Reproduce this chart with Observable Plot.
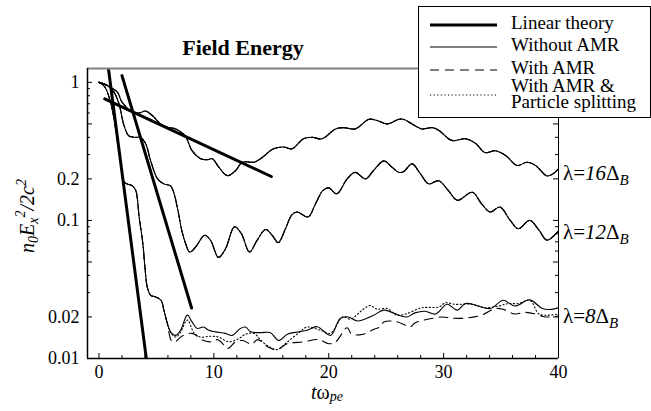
<!DOCTYPE html>
<html>
<head>
<meta charset="utf-8">
<script src="https://cdn.jsdelivr.net/npm/d3@7"></script>
<script src="https://cdn.jsdelivr.net/npm/@observablehq/plot@0.6"></script>
<style>
  html, body { margin: 0; padding: 0; background: #fff; }
  #chart { width: 651px; height: 411px; }
  #chart svg, #chart svg text, #chart svg g { font-family: "Liberation Serif", "Times New Roman", serif !important; }
  #chart g[aria-label$="tick label"], #chart g[aria-label$="tick label"] text { font-size: 18px !important; }
</style>
</head>
<body>
<div id="chart"></div>
<script>
// ---------- data ----------
const xLabelTicks = [0, 10, 20, 30, 40];
const xMinorTicks = [2, 4, 6, 8, 12, 14, 16, 18, 22, 24, 26, 28, 32, 34, 36, 38];
const yLabelTicks = [0.01, 0.02, 0.05, 0.1, 0.2, 0.5, 1];
const yMinorTicks = [0.03, 0.04, 0.06, 0.07, 0.08, 0.09, 0.3, 0.4, 0.6, 0.7, 0.8, 0.9];

// Linear theory (thick straight lines)
const linear16T = [0.5, 15.0];
const linear16V = [0.76, 0.208];
const linear12T = [2.0, 8.06];
const linear12V = [1.12, 0.0232];
const linear8T = [0.82, 4.12];
const linear8V = [1.26, 0.01];

// lambda = 16 Delta_B
const lam16T = [0, 0.5, 1.0, 1.6, 2.0, 2.9, 3.5, 4.06, 4.64, 5.5, 6.1, 6.67, 7.5, 8.1, 8.85, 9.4, 9.86, 10.43, 11.17, 11.9, 12.47, 13.5, 14.06, 15.2, 16.1, 16.8, 17.8, 18.55, 19.4, 20.6, 21.3, 22.3, 23.5, 24.2, 25.1, 26.1, 26.5, 27.25, 28.1, 29.0, 29.57, 30.7, 31.9, 32.8, 33.6, 34.5, 35.4, 36.4, 37.25, 38.0, 39.0, 39.6, 40];
const lam16V = [1.0, 0.97, 0.92, 0.85, 0.72, 0.61, 0.6, 0.62, 0.575, 0.49, 0.47, 0.46, 0.41, 0.32, 0.28, 0.275, 0.28, 0.243, 0.211, 0.23, 0.264, 0.264, 0.28, 0.33, 0.34, 0.33, 0.39, 0.40, 0.39, 0.46, 0.47, 0.46, 0.54, 0.53, 0.50, 0.54, 0.54, 0.50, 0.46, 0.47, 0.45, 0.38, 0.39, 0.36, 0.31, 0.32, 0.295, 0.25, 0.264, 0.25, 0.21, 0.22, 0.237];

// lambda = 12 Delta_B
const lam12T = [0, 0.73, 1.3, 1.74, 2.17, 2.6, 3.2, 3.6, 4.06, 4.5, 5.1, 5.65, 6.23, 6.5, 6.9, 7.2, 7.54, 7.9, 8.4, 9.2, 9.7, 10.4, 11.0, 11.8, 12.4, 13.1, 13.77, 14.5, 15.08, 15.6, 16.23, 16.8, 17.25, 18.2, 18.85, 19.5, 20.0, 20.7, 21.6, 22.3, 23.2, 23.9, 24.8, 25.5, 26.1, 26.5, 27.25, 27.97, 28.7, 29.57, 30.4, 31.2, 32.5, 33.3, 34.06, 34.9, 35.8, 36.5, 37.5, 38.3, 39.0, 40];
const lam12V = [1.0, 0.95, 0.85, 0.70, 0.49, 0.41, 0.40, 0.40, 0.36, 0.27, 0.20, 0.184, 0.178, 0.16, 0.115, 0.085, 0.068, 0.059, 0.064, 0.078, 0.072, 0.054, 0.062, 0.09, 0.08, 0.059, 0.072, 0.086, 0.078, 0.069, 0.087, 0.11, 0.115, 0.106, 0.132, 0.165, 0.172, 0.156, 0.2, 0.223, 0.2, 0.23, 0.27, 0.243, 0.223, 0.225, 0.257, 0.218, 0.184, 0.194, 0.165, 0.14, 0.16, 0.132, 0.115, 0.125, 0.1, 0.087, 0.1, 0.085, 0.072, 0.084];

// lambda = 8 Delta_B (without AMR)
const lam8T = [0, 0.5, 1.0, 1.3, 1.6, 1.9, 2.2, 2.5, 2.9, 3.2, 3.5, 3.8, 4.0, 4.2, 4.5, 4.9, 5.4, 5.65, 5.95, 6.23, 6.67, 7.1, 7.69, 8.1, 8.55, 9.1, 9.56, 10.15, 11.0, 11.6, 12.3, 12.75, 13.2, 14.06, 14.9, 15.65, 16.4, 17.4, 18.1, 19.0, 20.15, 21.0, 21.7, 22.5, 23.9, 24.8, 26.1, 26.8, 27.5, 28.4, 29.3, 30.3, 31.2, 31.9, 33.0, 34.06, 35.2, 36.2, 37.5, 38.6, 39.4, 40];
const lam8V = [1.0, 0.93, 0.72, 0.55, 0.38, 0.26, 0.19, 0.183, 0.178, 0.165, 0.105, 0.07, 0.046, 0.033, 0.0287, 0.028, 0.0264, 0.0224, 0.0179, 0.0156, 0.0147, 0.016, 0.0206, 0.0184, 0.0165, 0.0169, 0.016, 0.0156, 0.0152, 0.0147, 0.0165, 0.0169, 0.0156, 0.0154, 0.0154, 0.0135, 0.015, 0.0156, 0.016, 0.017, 0.0147, 0.0195, 0.02, 0.0187, 0.0206, 0.0224, 0.0206, 0.02, 0.0214, 0.022, 0.021, 0.0247, 0.0224, 0.025, 0.024, 0.023, 0.0264, 0.024, 0.0266, 0.023, 0.0227, 0.0233];

// lambda = 8 Delta_B (with AMR)
const lam8AmrT = [0, 0.5, 1.0, 1.3, 1.6, 1.9, 2.2, 2.5, 2.9, 3.2, 3.5, 3.8, 4.0, 4.2, 4.5, 4.9, 5.4, 5.65, 5.95, 6.3, 6.6, 7.2, 8.1, 9.1, 9.7, 10.3, 10.9, 11.2, 11.9, 12.5, 13.3, 13.8, 14.8, 15.5, 16.4, 17.8, 19.1, 20.0, 20.6, 21.6, 22.0, 23.0, 23.9, 24.5, 24.8, 25.9, 27.1, 27.5, 28.7, 29.9, 30.7, 31.9, 33.3, 34.5, 35.2, 36.2, 37.1, 38.0, 38.8, 40];
const lam8AmrV = [1.0, 0.93, 0.72, 0.55, 0.38, 0.26, 0.19, 0.183, 0.178, 0.165, 0.105, 0.07, 0.046, 0.033, 0.0287, 0.028, 0.0264, 0.0224, 0.0179, 0.0135, 0.0132, 0.0145, 0.0152, 0.0135, 0.0132, 0.0137, 0.0125, 0.0118, 0.0132, 0.0135, 0.0127, 0.0137, 0.012, 0.0116, 0.0128, 0.0132, 0.0137, 0.0128, 0.0132, 0.0167, 0.015, 0.015, 0.0162, 0.017, 0.0184, 0.0185, 0.017, 0.0181, 0.0193, 0.02, 0.0196, 0.0196, 0.0206, 0.023, 0.0227, 0.021, 0.0216, 0.021, 0.02, 0.0203];

// lambda = 8 Delta_B (with AMR & particle splitting)
const lam8SplitT = [0, 0.5, 1.0, 1.3, 1.6, 1.9, 2.2, 2.5, 2.9, 3.2, 3.5, 3.8, 4.0, 4.2, 4.5, 4.9, 5.4, 5.65, 5.95, 6.23, 6.67, 7.1, 7.69, 8.3, 8.85, 9.7, 10.4, 11.3, 12.2, 12.75, 13.5, 14.0, 14.6, 15.5, 16.4, 17.5, 18.1, 19.3, 20.15, 21.2, 21.9, 23.0, 23.6, 24.2, 25.1, 25.9, 26.7, 28.1, 29.6, 30.15, 31.0, 32.5, 33.6, 34.8, 35.65, 36.5, 37.5, 38.3, 39.1, 40];
const lam8SplitV = [1.0, 0.93, 0.72, 0.55, 0.38, 0.26, 0.19, 0.183, 0.178, 0.165, 0.105, 0.07, 0.046, 0.033, 0.0287, 0.028, 0.0264, 0.0224, 0.0179, 0.0155, 0.0143, 0.0155, 0.019, 0.0152, 0.0143, 0.0145, 0.0143, 0.0132, 0.014, 0.015, 0.0152, 0.0138, 0.0125, 0.0116, 0.0132, 0.0156, 0.0169, 0.016, 0.0152, 0.02, 0.0193, 0.0227, 0.0242, 0.0228, 0.023, 0.0206, 0.021, 0.0233, 0.0236, 0.0253, 0.0247, 0.0247, 0.0233, 0.024, 0.025, 0.025, 0.0264, 0.021, 0.0206, 0.021];

// label positions (values at the right edge)
const lambdaNames = ["16", "12", "8"];
const lambdaLabelV = [0.219, 0.082, 0.020];

const legendNames = ["Linear theory", "Without AMR", "With AMR", "With AMR &", "Particle splitting"];

// ---------- build ----------
const pts = (T, V) => T.map((t, i) => ({t, v: V[i]}));
const FONT = "Liberation Serif, Times New Roman, serif";
const innerW = 651 - 87 - 93;
const innerH = 411 - 68 - 53;

const solid = {x: "t", y: "v", stroke: "black", strokeWidth: 1.1, curve: "catmull-rom", clip: true};
const dashed = {...solid, strokeDasharray: "9,6"};
const dotted = {...solid, strokeDasharray: "1.2,2.4"};
const thick = {x: "t", y: "v", stroke: "black", strokeWidth: 3, clip: true};

const chart = Plot.plot({
  width: 651,
  height: 411,
  marginLeft: 87,
  marginRight: 93,
  marginTop: 68,
  marginBottom: 53,
  style: {fontFamily: FONT, background: "white", color: "black"},
  x: {domain: [-1, 40]},
  y: {type: "log", domain: [0.01, 1.26]},
  marks: [
    // tick labels
    Plot.axisX(xLabelTicks, {tickSize: 0, tickPadding: 7, fontSize: 18, label: null, tickFormat: d => String(d)}),
    Plot.axisY(yLabelTicks, {tickSize: 0, tickPadding: 8, fontSize: 18, label: null, tickFormat: d => String(d)}),
    // inward ticks
    Plot.ruleX(xLabelTicks, {x: d => d, insetTop: innerH - 5, stroke: "black"}),
    Plot.ruleX(xMinorTicks, {x: d => d, insetTop: innerH - 3, stroke: "black"}),
    Plot.ruleY(yLabelTicks, {y: d => d, insetRight: innerW - 5, stroke: "black"}),
    Plot.ruleY(yMinorTicks, {y: d => d, insetRight: innerW - 3, stroke: "black"}),
    Plot.ruleY(yLabelTicks, {y: d => d, insetLeft: innerW - 5, stroke: "black"}),
    Plot.ruleY(yMinorTicks, {y: d => d, insetLeft: innerW - 3, stroke: "black"}),
    // curves
    Plot.line(pts(lam16T, lam16V), dotted),
    Plot.line(pts(lam16T, lam16V), dashed),
    Plot.line(pts(lam16T, lam16V), solid),
    Plot.line(pts(lam12T, lam12V), dotted),
    Plot.line(pts(lam12T, lam12V), dashed),
    Plot.line(pts(lam12T, lam12V), solid),
    Plot.line(pts(lam8SplitT, lam8SplitV), dotted),
    Plot.line(pts(lam8AmrT, lam8AmrV), dashed),
    Plot.line(pts(lam8T, lam8V), solid),
    // linear theory
    Plot.line(pts(linear16T, linear16V), thick),
    Plot.line(pts(linear12T, linear12V), thick),
    Plot.line(pts(linear8T, linear8V), thick),
    // frame
    Plot.ruleY([1.26], {stroke: "#808080", strokeWidth: 2}),
    Plot.ruleX([40], {stroke: "black", strokeWidth: 1}),
    Plot.ruleX([-1], {stroke: "black", strokeWidth: 1.5}),
    Plot.ruleY([0.01], {stroke: "black", strokeWidth: 1.5})
  ]
});

document.getElementById("chart").appendChild(chart);

// ---------- annotations (rich text) ----------
const svg = d3.select(chart);
const xs = chart.scale("x");
const ys = chart.scale("y");

// title
svg.append("text")
  .attr("x", 243).attr("y", 55)
  .attr("text-anchor", "middle")
  .attr("font-size", 22).attr("font-weight", "bold")
  .text("Field Energy");

// y label
const yl = svg.append("text")
  .attr("transform", "translate(34,216) rotate(-90)")
  .attr("text-anchor", "middle")
  .attr("font-size", 20).attr("font-style", "italic");
yl.append("tspan").text("n");
yl.append("tspan").attr("dy", 4).attr("font-size", 14).text("0");
yl.append("tspan").attr("dy", -4).text("E");
yl.append("tspan").attr("dy", 4).attr("font-size", 14).text("x");
yl.append("tspan").attr("dy", -13).attr("font-size", 14).text("2");
yl.append("tspan").attr("dy", 9).text("/2c");
yl.append("tspan").attr("dy", -8).attr("font-size", 14).text("2");

// x label
const xl = svg.append("text")
  .attr("x", 327).attr("y", 399)
  .attr("text-anchor", "middle")
  .attr("font-size", 20);
xl.append("tspan").attr("font-style", "italic").text("t");
xl.append("tspan").text("ω");
xl.append("tspan").attr("dy", 2).attr("font-size", 14).attr("font-style", "italic").text("pe");

// lambda labels
lambdaNames.forEach((n, i) => {
  const t = svg.append("text")
    .attr("x", xs.apply(40) + 5)
    .attr("y", ys.apply(lambdaLabelV[i]) + 7)
    .attr("text-anchor", "start")
    .attr("font-size", 21);
  t.append("tspan").text("λ=");
  t.append("tspan").attr("font-style", "italic").text(n);
  t.append("tspan").text("Δ");
  t.append("tspan").attr("dy", 5).attr("font-size", 15).attr("font-style", "italic").text("B");
});

// legend
const lg = svg.append("g").attr("font-size", 19).attr("text-anchor", "start");
lg.append("rect").attr("x", 418.5).attr("y", 6.5).attr("width", 232).attr("height", 111)
  .attr("fill", "white").attr("stroke", "black").attr("stroke-width", 1);
const sampleY = [25, 47, 70, 95];
const sampleStyle = [
  {w: 3, d: null},
  {w: 1.1, d: null},
  {w: 1.1, d: "9,6"},
  {w: 1.1, d: "1.2,2.4"}
];
sampleY.forEach((y, i) => {
  const l = lg.append("line").attr("x1", 430).attr("x2", 497).attr("y1", y).attr("y2", y)
    .attr("stroke", "black").attr("stroke-width", sampleStyle[i].w);
  if (sampleStyle[i].d) l.attr("stroke-dasharray", sampleStyle[i].d);
});
const textY = [29, 51, 74, 92, 108];
legendNames.forEach((s, i) => {
  lg.append("text").attr("x", 511).attr("y", textY[i]).attr("text-anchor", "start").text(s);
});
</script>
</body>
</html>
